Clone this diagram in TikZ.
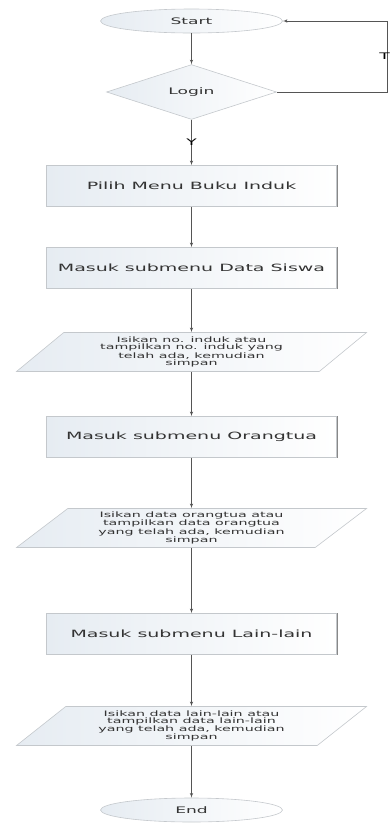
\documentclass[tikz,border=0pt]{standalone}
\usepackage{fontspec}
\newfontfamily\flowfont[FakeStretch=1.9]{DejaVu Sans}
\usepackage{tikz}
\usetikzlibrary{arrows}
\usetikzlibrary{shapes.geometric}

\definecolor{edgegray}{HTML}{C4C8CC}
\definecolor{linegray}{HTML}{555555}
\definecolor{textgray}{HTML}{333333}
\definecolor{fillblue}{HTML}{E6ECF2}

\tikzset{
    shapebox/.style = {draw = edgegray, line width = .6pt, left color = fillblue,
        right color = white, text = textgray, inner sep = 0},
    termbox/.style = {shapebox, ellipse, minimum width = 182, minimum height = 24,
        font = \flowfont\fontsize{9}{10}\selectfont},
    decibox/.style = {shapebox, diamond, minimum width = 170, minimum height = 43,
        font = \flowfont\fontsize{9}{10}\selectfont},
    procbox/.style = {shapebox, rectangle, minimum width = 290, minimum height = 41,
        font = \flowfont\fontsize{10}{12}\selectfont},
    iobox/.style = {shapebox, trapezium, trapezium left angle = 32,
        trapezium right angle = 148, trapezium stretches body,
        minimum width = 350, minimum height = 39, align = center,
        font = \flowfont\fontsize{7.5}{7}\selectfont},
    flow/.style = {-latex', draw = linegray, line width = .6pt},
    flowlabel/.style = {text = black, inner sep = 0,
        font = \flowfont\fontsize{9}{10}\selectfont},
}

\begin{document}
\begin{tikzpicture}[x = 1pt, y = -1pt]
    \useasboundingbox (0, 0) rectangle (390, 823);

    %% start and login
    \node[termbox] (start) at (191.5, 21) {Start};
    \node[decibox] (login) at (191.5, 92) {Login};

    %% steps
    \node[procbox] (menu)  at (191.5, 186) {Pilih Menu Buku Induk};
    \node[procbox] (siswa) at (191.5, 268) {Masuk submenu Data Siswa};
    \node[iobox]   (isi1)  at (191.5, 352) {Isikan no. induk atau\\tampilkan no. induk yang\\telah ada, kemudian\\simpan};
    \node[procbox] (ortu)  at (191.5, 437) {Masuk submenu Orangtua};
    \node[iobox]   (isi2)  at (191.5, 528) {Isikan data orangtua atau\\tampilkan data orangtua\\yang telah ada, kemudian\\simpan};
    \node[procbox] (lain)  at (191.5, 634) {Masuk submenu Lain-lain};
    \node[iobox]   (isi3)  at (191.5, 726) {Isikan data lain-lain atau\\tampilkan data lain-lain\\yang telah ada, kemudian\\simpan};
    \node[termbox] (end)   at (191.5, 810) {End};

    %% darker right edges
    \foreach \n in {menu, siswa, ortu, lain}
        \draw[linegray!70, line width = .6pt] (\n.north east) -- (\n.south east);

    %% connectors
    \draw[flow] (start) -- (login);
    \draw[flow] (login) -- node[flowlabel] {Y} (menu);
    \draw[flow] (menu) -- (siswa);
    \draw[flow] (siswa.south) -- (isi1.north -| siswa.south);
    \draw[flow] (isi1.south -| ortu.north) -- (ortu.north);
    \draw[flow] (ortu.south) -- (isi2.north -| ortu.south);
    \draw[flow] (isi2.south -| lain.north) -- (lain.north);
    \draw[flow] (lain.south) -- (isi3.north -| lain.south);
    \draw[flow] (isi3.south -| end.north) -- (end.north);

    %% back to start
    \coordinate (back) at (387.5, 21);
    \draw[flow] (login.east) -| node[flowlabel, pos = .75, xshift = -3] {T} (back) -- (start.east);
\end{tikzpicture}
\end{document}
